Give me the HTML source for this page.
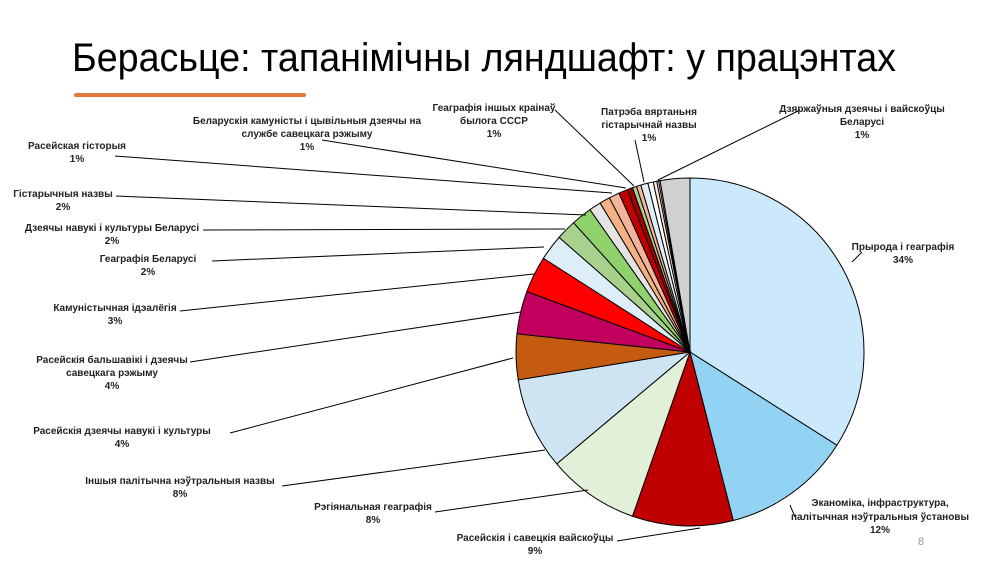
<!DOCTYPE html>
<html><head><meta charset="utf-8"><style>
body{margin:0;background:#fff;width:1000px;height:559px;overflow:hidden;font-family:"Liberation Sans",sans-serif}
</style></head><body>
<svg id="s" width="1000" height="559" xmlns="http://www.w3.org/2000/svg">
<text x="72" y="71" font-size="40" font-family="Liberation Sans, sans-serif" fill="#000" textLength="824" lengthAdjust="spacingAndGlyphs">Берасьце: тапанімічны ляндшафт: у працэнтах</text>
<line x1="76" y1="95" x2="304" y2="95" stroke="#e07a3c" stroke-width="4" stroke-linecap="round"/>
<text x="918" y="545" font-size="11" fill="#999">8</text>
<g id="pie"></g>
<g id="lines" stroke="#000" stroke-width="1" fill="none">
<polyline points="852,262 862,252"/>
<polyline points="790,505 795,517"/>
<polyline points="700,528 617,541"/>
<polyline points="588,490 435,512"/>
<polyline points="545,450 282,486"/>
<polyline points="513,358 230,433"/>
<polyline points="521,312 190,362"/>
<polyline points="534,274 180,311"/>
<polyline points="544,247 212,261"/>
<polyline points="565,229 203,230"/>
<polyline points="586,215 116,196"/>
<polyline points="612,193 115,156"/>
<polyline points="626,188 322,140"/>
<polyline points="634,186 555,110"/>
<polyline points="644,182 635,140"/>
<polyline points="658,180 800,110"/>
</g>
<g font-size="10" font-weight="bold" text-anchor="middle" fill="#222" font-family="Liberation Sans, sans-serif">
<text x="903" y="250">Прырода і геаграфія</text><text x="903" y="263">34%</text>
<text x="880" y="506">Эканоміка, інфраструктура,</text><text x="880" y="520">палітычная нэўтральныя ўстановы</text><text x="880" y="533">12%</text>
<text x="535" y="541">Расейскія і савецкія вайскоўцы</text><text x="535" y="554">9%</text>
<text x="373" y="510">Рэгіянальная геаграфія</text><text x="373" y="523">8%</text>
<text x="180" y="484">Іншыя палітычна нэўтральныя назвы</text><text x="180" y="497">8%</text>
<text x="122" y="434">Расейскія дзеячы навукі і культуры</text><text x="122" y="447">4%</text>
<text x="112" y="363">Расейскія бальшавікі і дзеячы</text><text x="112" y="376">савецкага рэжыму</text><text x="112" y="389">4%</text>
<text x="115" y="311">Камуністычная ідэалёгія</text><text x="115" y="324">3%</text>
<text x="148" y="262">Геаграфія Беларусі</text><text x="148" y="275">2%</text>
<text x="112" y="231">Дзеячы навукі і культуры Беларусі</text><text x="112" y="244">2%</text>
<text x="63" y="197">Гістарычныя назвы</text><text x="63" y="210">2%</text>
<text x="77" y="149">Расейская гісторыя</text><text x="77" y="162">1%</text>
<text x="307" y="124">Беларускія камуністы і цывільныя дзеячы на</text><text x="307" y="137">службе савецкага рэжыму</text><text x="307" y="150">1%</text>
<text x="494" y="111">Геаграфія іншых краінаў</text><text x="494" y="124">былога СССР</text><text x="494" y="137">1%</text>
<text x="649" y="115">Патрэба вяртаньня</text><text x="649" y="128">гістарычнай назвы</text><text x="649" y="141">1%</text>
<text x="862" y="112">Дзяржаўныя дзеячы і вайскоўцы</text><text x="862" y="125">Беларусі</text><text x="862" y="138">1%</text>
</g>
</svg>
<script>
var d=[[122.4,"#cce9fb"],[165.6,"#92d3f3"],[199.3,"#c00000"],[230,"#e2f0d9"],[260.8,"#cfe4f2"],[276,"#c55a11"],[290.3,"#c0005c"],[302.6,"#ff0000"],[311.2,"#ddeef8"],[318,"#a9d18e"],[324.9,"#8fd16a"],[328.9,"#e4e4e4"],
[332.4,"#f4b183"],[335.9,"#f4b49a"],[338.9,"#c00000"],[340.7,"#a50000"],[342.1,"#a9d18e"],[343.6,"#f4b49a"],[346,"#ddeef8"],[347.8,"#ffffff"],[349,"#fbe5d6"],[349.6,"#ffffff"],[350.1,"#dddddd"],[360,"#d0d0d0"]];
var cx=690,cy=352,r=174,a=0,h="";
d.forEach(function(x){var b=x[0]*Math.PI/180;
var x1=cx+r*Math.sin(a),y1=cy-r*Math.cos(a),x2=cx+r*Math.sin(b),y2=cy-r*Math.cos(b);
h+='<path d="M'+cx+','+cy+'L'+x1.toFixed(2)+','+y1.toFixed(2)+'A'+r+','+r+' 0 '+((b-a)>Math.PI?1:0)+' 1 '+x2.toFixed(2)+','+y2.toFixed(2)+'Z" fill="'+x[1]+'" stroke="#000" stroke-width="1"/>';a=b;});
document.getElementById("pie").innerHTML=h;
</script>
</body></html>
